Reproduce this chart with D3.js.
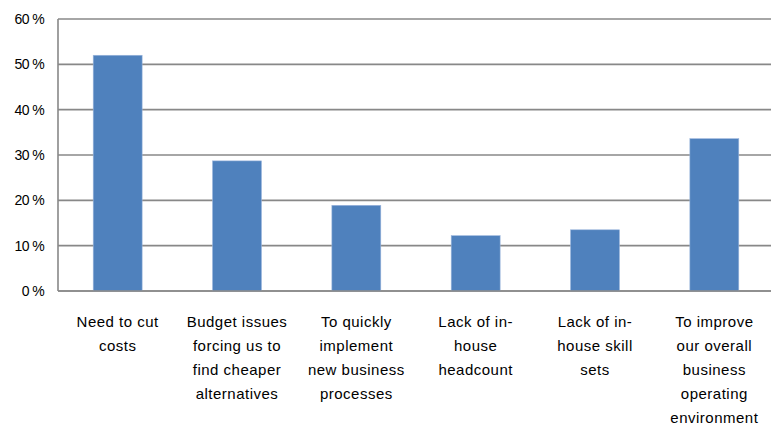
<!DOCTYPE html>
<html>
<head>
<meta charset="utf-8">
<script src="https://cdn.jsdelivr.net/npm/d3@7"></script>
<style>
  body { margin: 0; background: #fff; }
  svg { display: block; }
  text { font-family: "Liberation Sans", Arial, sans-serif; fill: #000; }
</style>
</head>
<body>
<svg id="drawing_region"></svg>
<script>
// chart data
const categories = ["c1", "c2", "c3", "c4", "c5", "c6"];
const labels = [
    ["Need to cut", "costs"],
    ["Budget issues", "forcing us to", "find cheaper", "alternatives"],
    ["To quickly", "implement", "new business", "processes"],
    ["Lack of in-", "house", "headcount"],
    ["Lack of in-", "house skill", "sets"],
    ["To improve", "our overall", "business", "operating", "environment"]
];
const values = [52.0, 28.7, 18.9, 12.2, 13.5, 33.6];
const yTicks = [0, 10, 20, 30, 40, 50, 60];

const width = 771, height = 425;
const svg = d3.select('#drawing_region')
    .attr('width', width)
    .attr('height', height);

const xscale = d3.scaleBand()
    .domain(categories)
    .range([58, 774])
    .paddingInner(0.59)
    .paddingOuter(0.295);

const yscale = d3.scaleLinear()
    .domain([0, 60])
    .range([291, 19]);

// gridlines
svg.append('g').selectAll('line')
    .data(yTicks)
    .enter()
    .append('line')
    .attr('x1', 58)
    .attr('x2', width)
    .attr('y1', d => yscale(d))
    .attr('y2', d => yscale(d))
    .attr('stroke', '#888')
    .attr('stroke-width', 1.6);

// left axis line
svg.append('line')
    .attr('x1', 58).attr('x2', 58)
    .attr('y1', yscale(60)).attr('y2', yscale(0))
    .attr('stroke', '#888')
    .attr('stroke-width', 1.6);

// y labels
svg.append('g').selectAll('text')
    .data(yTicks)
    .enter()
    .append('text')
    .attr('x', 44)
    .attr('y', d => yscale(d))
    .attr('dy', '0.35em')
    .attr('text-anchor', 'end')
    .style('font-size', '14px')
    .style('letter-spacing', '-0.6px')
    .text(d => d + ' %');

// bars
svg.append('g').selectAll('rect')
    .data(values)
    .enter()
    .append('rect')
    .attr('x', (d, i) => xscale(categories[i]))
    .attr('y', d => yscale(d))
    .attr('width', xscale.bandwidth())
    .attr('height', d => yscale(0) - yscale(d))
    .attr('fill', '#4f81bd')
    .attr('stroke', '#9bb5dc')
    .attr('stroke-width', 0.6);

// bottom axis line over bars
svg.append('line')
    .attr('x1', 58).attr('x2', width)
    .attr('y1', yscale(0)).attr('y2', yscale(0))
    .attr('stroke', '#888')
    .attr('stroke-width', 1.6);

// category labels
const lab = svg.append('g').selectAll('text')
    .data(labels)
    .enter()
    .append('text')
    .attr('text-anchor', 'middle')
    .style('font-size', '15px')
    .style('letter-spacing', '0.5px');

lab.selectAll('tspan')
    .data((d, i) => d.map(line => ({ line: line, i: i })))
    .enter()
    .append('tspan')
    .attr('x', d => xscale(categories[d.i]) + xscale.bandwidth() / 2)
    .attr('y', (d, j) => 327 + j * 24)
    .text(d => d.line);
</script>
</body>
</html>
